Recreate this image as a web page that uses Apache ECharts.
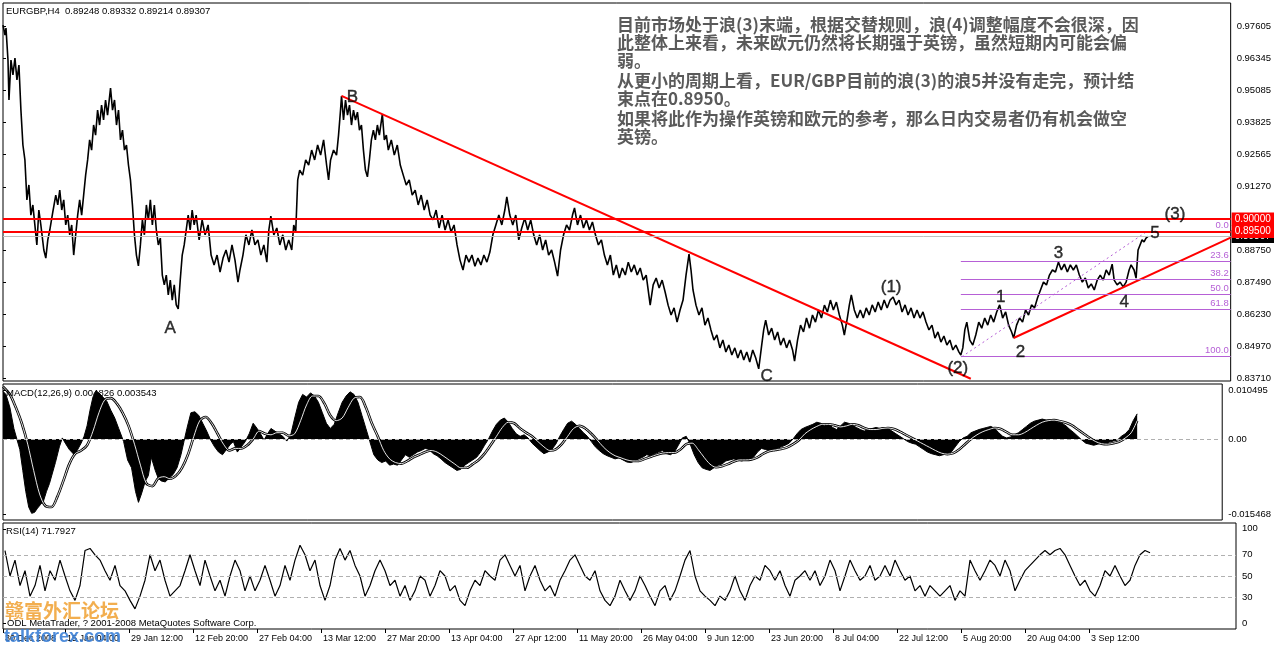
<!DOCTYPE html>
<html><head><meta charset="utf-8">
<script src="https://cdn.jsdelivr.net/npm/echarts@6/dist/echarts.min.js"></script>
<style>html,body{margin:0;padding:0;background:#fff}#c{width:1274px;height:647px}</style>
</head><body><div id="c"></div><script>
// ---------- DATA ----------
const symbolTitle = 'EURGBP,H4  0.89248 0.89332 0.89214 0.89307';
const macdTitle = 'MACD(12,26,9) 0.004826 0.003543';
const rsiTitle = 'RSI(14) 71.7927';

const timeTickBars = [0,62,126,190,254,318,382,446,510,574,638,702,766,830,894,958,1022,1086];
const timeLabels = ['30 Dec 2008','15 Jan 04:00','29 Jan 12:00','12 Feb 20:00','27 Feb 04:00','13 Mar 12:00','27 Mar 20:00','13 Apr 04:00','27 Apr 12:00','11 May 20:00','26 May 04:00','9 Jun 12:00','23 Jun 20:00','8 Jul 04:00','22 Jul 12:00','5 Aug 20:00','20 Aug 04:00','3 Sep 12:00'];

const priceTicks = [0.97605,0.96345,0.95085,0.93825,0.92565,0.91270,0.88750,0.87490,0.86230,0.84970,0.83710];

// [bar, price]
const pricePoints = [[0,0.9766],[2,0.9727],[3,0.9754],[5,0.9628],[6,0.9470],[8,0.9628],[10,0.9569],[12,0.9636],[14,0.9549],[16,0.9608],[18,0.9430],[20,0.9292],[22,0.9233],[24,0.9075],[26,0.9134],[28,0.9015],[30,0.9055],[32,0.8976],[34,0.8897],[36,0.9035],[38,0.8976],[41,0.8877],[43,0.8845],[45,0.8917],[47,0.8956],[50,0.9027],[53,0.9094],[55,0.9055],[57,0.9114],[59,0.9035],[61,0.9075],[63,0.8976],[65,0.9015],[67,0.8937],[69,0.8976],[71,0.8857],[73,0.8937],[75,0.9015],[77,0.9075],[79,0.9015],[81,0.9094],[83,0.9173],[85,0.9233],[87,0.9312],[89,0.9272],[91,0.9371],[93,0.9331],[95,0.9430],[97,0.9371],[99,0.9450],[101,0.9391],[103,0.9470],[105,0.9410],[108,0.9517],[110,0.9430],[112,0.9470],[114,0.9371],[116,0.9430],[118,0.9312],[120,0.9351],[122,0.9272],[124,0.9292],[126,0.9213],[128,0.9154],[130,0.9055],[132,0.8937],[134,0.8857],[136,0.8814],[138,0.8897],[140,0.8996],[142,0.8937],[144,0.9055],[146,0.8996],[148,0.9075],[150,0.8976],[152,0.9055],[154,0.8956],[156,0.8897],[158,0.8924],[160,0.8778],[162,0.8739],[164,0.8778],[166,0.8699],[168,0.8758],[170,0.8679],[172,0.8739],[174,0.8660],[176,0.8644],[178,0.8758],[180,0.8857],[182,0.8897],[184,0.8956],[186,0.9015],[188,0.8956],[190,0.9035],[192,0.8976],[194,0.9015],[197,0.8917],[200,0.8996],[203,0.8937],[206,0.8976],[209,0.8857],[212,0.8818],[215,0.8857],[218,0.8790],[221,0.8845],[224,0.8877],[227,0.8829],[230,0.8897],[233,0.8837],[236,0.8750],[238,0.8798],[241,0.8857],[244,0.8937],[247,0.8897],[250,0.8956],[253,0.8897],[256,0.8917],[259,0.8857],[262,0.8897],[265,0.8829],[267,0.8956],[269,0.9011],[272,0.8937],[275,0.8964],[278,0.8897],[281,0.8937],[284,0.8877],[287,0.8917],[290,0.8877],[292,0.8976],[294,0.8948],[296,0.9154],[298,0.9193],[301,0.9173],[304,0.9233],[307,0.9213],[310,0.9272],[313,0.9233],[316,0.9292],[319,0.9252],[322,0.9312],[325,0.9213],[327,0.9154],[329,0.9233],[332,0.9272],[335,0.9252],[337,0.9331],[339,0.9430],[340,0.9486],[342,0.9391],[344,0.9470],[346,0.9410],[348,0.9450],[350,0.9371],[352,0.9430],[354,0.9391],[356,0.9422],[358,0.9351],[360,0.9371],[362,0.9272],[364,0.9193],[366,0.9166],[368,0.9233],[370,0.9312],[372,0.9351],[374,0.9312],[376,0.9371],[378,0.9331],[381,0.9414],[383,0.9312],[385,0.9331],[387,0.9272],[390,0.9312],[393,0.9252],[396,0.9292],[399,0.9213],[402,0.9173],[405,0.9134],[408,0.9154],[411,0.9094],[414,0.9114],[417,0.9055],[420,0.9094],[423,0.9035],[426,0.9075],[429,0.9015],[432,0.8996],[435,0.9035],[438,0.8964],[441,0.9015],[444,0.8956],[447,0.8996],[450,0.8948],[453,0.8976],[456,0.8897],[459,0.8837],[462,0.8798],[465,0.8857],[468,0.8829],[471,0.8857],[474,0.8813],[477,0.8845],[480,0.8818],[483,0.8857],[486,0.8829],[489,0.8869],[492,0.8937],[495,0.8976],[498,0.9015],[501,0.8976],[504,0.9035],[506,0.9087],[509,0.9015],[512,0.8976],[515,0.9015],[518,0.8917],[521,0.8964],[524,0.9003],[527,0.8956],[530,0.8996],[533,0.8937],[536,0.8897],[539,0.8937],[542,0.8877],[545,0.8917],[548,0.8857],[551,0.8877],[554,0.8829],[557,0.8774],[560,0.8877],[563,0.8937],[566,0.8976],[569,0.8956],[572,0.9015],[574,0.9043],[577,0.8976],[580,0.9015],[583,0.8964],[586,0.8996],[589,0.8956],[592,0.8988],[595,0.8937],[598,0.8897],[601,0.8917],[604,0.8857],[607,0.8818],[610,0.8857],[613,0.8778],[616,0.8818],[619,0.8766],[622,0.8806],[625,0.8778],[628,0.8829],[631,0.8790],[634,0.8818],[637,0.8778],[640,0.8806],[643,0.8758],[646,0.8778],[650,0.8659],[653,0.8739],[656,0.8766],[659,0.8727],[662,0.8758],[665,0.8711],[668,0.8659],[671,0.8620],[674,0.8648],[677,0.8592],[680,0.8640],[683,0.8679],[686,0.8778],[689,0.8861],[691,0.8798],[693,0.8719],[696,0.8659],[699,0.8620],[702,0.8648],[705,0.8580],[708,0.8608],[711,0.8561],[714,0.8521],[717,0.8541],[720,0.8490],[723,0.8521],[726,0.8474],[729,0.8501],[732,0.8462],[735,0.8490],[738,0.8450],[741,0.8482],[744,0.8442],[747,0.8474],[750,0.8434],[753,0.8482],[756,0.8450],[759,0.8407],[762,0.8501],[764,0.8561],[766,0.8600],[769,0.8541],[772,0.8568],[775,0.8521],[778,0.8553],[781,0.8501],[784,0.8529],[787,0.8490],[790,0.8521],[793,0.8482],[795,0.8438],[798,0.8521],[801,0.8580],[804,0.8553],[807,0.8608],[810,0.8568],[813,0.8620],[816,0.8592],[819,0.8640],[822,0.8608],[825,0.8659],[828,0.8632],[831,0.8679],[834,0.8640],[837,0.8671],[840,0.8620],[843,0.8580],[845,0.8541],[848,0.8608],[850,0.8659],[852,0.8699],[855,0.8640],[858,0.8608],[861,0.8640],[864,0.8608],[867,0.8648],[870,0.8620],[873,0.8660],[876,0.8632],[879,0.8671],[882,0.8640],[885,0.8679],[888,0.8648],[891,0.8679],[894,0.8691],[897,0.8660],[900,0.8679],[903,0.8632],[906,0.8660],[909,0.8620],[912,0.8648],[915,0.8608],[918,0.8640],[921,0.8608],[924,0.8632],[927,0.8592],[930,0.8561],[933,0.8580],[936,0.8529],[939,0.8553],[942,0.8513],[945,0.8537],[948,0.8501],[951,0.8521],[954,0.8482],[957,0.8501],[960,0.8474],[962,0.8462],[964,0.8490],[966,0.8561],[968,0.8592],[971,0.8521],[974,0.8501],[977,0.8541],[980,0.8592],[983,0.8568],[986,0.8608],[989,0.8580],[992,0.8620],[995,0.8592],[998,0.8632],[1001,0.8660],[1004,0.8608],[1007,0.8632],[1010,0.8580],[1013,0.8553],[1015,0.8529],[1018,0.8580],[1021,0.8608],[1024,0.8592],[1027,0.8640],[1030,0.8620],[1033,0.8660],[1036,0.8648],[1039,0.8687],[1042,0.8719],[1045,0.8750],[1048,0.8739],[1051,0.8778],[1054,0.8798],[1057,0.8790],[1060,0.8829],[1063,0.8798],[1066,0.8821],[1069,0.8790],[1072,0.8818],[1075,0.8798],[1078,0.8818],[1081,0.8778],[1084,0.8750],[1087,0.8766],[1090,0.8727],[1093,0.8743],[1096,0.8719],[1099,0.8758],[1102,0.8778],[1105,0.8758],[1108,0.8798],[1111,0.8778],[1114,0.8821],[1116,0.8758],[1119,0.8739],[1122,0.8750],[1125,0.8731],[1128,0.8750],[1131,0.8798],[1133,0.8818],[1136,0.8798],[1138,0.8766],[1140,0.8877],[1142,0.8897],[1144,0.8917],[1146,0.8909],[1148,0.8924],[1150,0.8931]];

const resistanceLevels = [0.90000, 0.89500];
const lastPrice = 0.89307;
const trendDown = [[340,0.9486],[972,0.8368]];
const trendUp = [[1015,0.8529],[1233,0.8926]];
const fibNames = ['0.0','23.6','38.2','50.0','61.8','100.0'];
const fibLevels = [0.8950,0.8833,0.8761,0.8703,0.8644,0.8455];
const fibStartBar = 962;
const fibBase = [[963,0.8455],[1147,0.8945]];

const waveNames = ['A','B','C','(1)','(2)','1','2','3','4','5','(3)'];
const waveBars = [168,351,767,892,959,1002,1022,1060,1126,1157,1177];
const wavePrices = [0.8569,0.9482,0.8379,0.8731,0.8411,0.8691,0.8474,0.8865,0.8671,0.8944,0.9019];

const macdHist = [[0,0.0091],[3,0.0085],[7,0.006],[11,0.002],[14,0],[17,-0.002],[20,-0.006],[23,-0.010],[26,-0.013],[29,-0.0142],[32,-0.0140],[35,-0.0132],[38,-0.0125],[41,-0.0118],[44,-0.0100],[47,-0.0085],[50,-0.0065],[53,-0.0045],[57,-0.0015],[60,0.0002],[63,-0.0008],[67,-0.0020],[72,-0.0030],[75,-0.0022],[79,-0.0008],[82,0.0005],[85,0.0025],[88,0.0055],[91,0.0080],[94,0.0092],[97,0.0088],[101,0.0080],[105,0.0072],[109,0.0055],[113,0.0040],[117,0.0020],[122,-0.0005],[126,-0.0040],[130,-0.0055],[134,-0.0100],[137,-0.0121],[140,-0.0105],[144,-0.0080],[147,-0.0070],[150,-0.0035],[154,-0.0060],[157,-0.0075],[160,-0.0080],[164,-0.0082],[168,-0.0075],[172,-0.0068],[176,-0.0055],[180,-0.0030],[183,-0.0005],[186,0.0020],[190,0.0050],[194,0.0052],[198,0.0045],[202,0.0030],[206,0.0015],[210,-0.0002],[214,-0.0015],[218,-0.0025],[222,-0.0030],[226,-0.0020],[230,-0.0010],[233,-0.0005],[237,-0.0025],[241,-0.0015],[245,-0.0005],[249,0.0010],[253,0.0030],[257,0.0020],[261,0.0008],[264,-0.0002],[267,0.0008],[271,0.0020],[275,0.0015],[279,0.0010],[283,0.0005],[287,-0.0004],[291,0.0008],[295,0.0040],[299,0.0070],[303,0.0085],[307,0.0080],[311,0.0088],[315,0.0082],[319,0.0070],[323,0.0050],[327,0.0030],[331,0.0020],[335,0.0028],[339,0.0050],[343,0.0070],[347,0.0082],[351,0.0090],[355,0.0085],[359,0.0070],[363,0.0045],[367,0.0020],[371,-0.0005],[375,-0.0030],[379,-0.0040],[383,-0.0045],[387,-0.0042],[391,-0.0050],[395,-0.0048],[399,-0.0050],[403,-0.0040],[407,-0.0030],[411,-0.0035],[415,-0.0030],[419,-0.0025],[423,-0.0022],[427,-0.0018],[431,-0.0020],[435,-0.0028],[439,-0.0032],[443,-0.0038],[447,-0.0045],[451,-0.0050],[455,-0.0055],[459,-0.0060],[463,-0.0058],[467,-0.0050],[471,-0.0045],[475,-0.0040],[479,-0.0035],[483,-0.0025],[487,-0.0012],[491,0],[495,0.0015],[499,0.0028],[503,0.0036],[507,0.0040],[511,0.0032],[515,0.0020],[519,0.0010],[523,0.0005],[527,0.0008],[531,0.0002],[535,-0.0008],[539,-0.0015],[543,-0.0022],[547,-0.0028],[551,-0.0025],[555,-0.0020],[559,-0.0010],[563,0.0005],[567,0.0018],[571,0.0030],[575,0.0034],[579,0.0028],[583,0.0020],[587,0.0012],[591,0.0005],[595,-0.0005],[599,-0.0015],[603,-0.0022],[607,-0.0028],[611,-0.0032],[615,-0.0035],[619,-0.0038],[623,-0.0036],[627,-0.0040],[631,-0.0044],[635,-0.0045],[639,-0.0042],[643,-0.0038],[647,-0.0035],[651,-0.0030],[655,-0.0032],[659,-0.0028],[663,-0.0025],[667,-0.0022],[671,-0.0028],[675,-0.0030],[679,-0.0025],[683,-0.0012],[687,0.0002],[691,0.0005],[695,-0.0010],[699,-0.0030],[703,-0.0045],[707,-0.0055],[711,-0.0058],[715,-0.0060],[719,-0.0055],[723,-0.0050],[727,-0.0048],[731,-0.0042],[735,-0.0040],[739,-0.0038],[743,-0.0040],[747,-0.0042],[751,-0.0040],[755,-0.0038],[759,-0.0035],[763,-0.0025],[767,-0.0018],[771,-0.0020],[775,-0.0022],[779,-0.0020],[783,-0.0018],[787,-0.0015],[791,-0.0012],[795,-0.0008],[799,0],[803,0.0010],[807,0.0018],[811,0.0022],[815,0.0025],[819,0.0028],[823,0.0032],[827,0.0030],[831,0.0025],[835,0.0028],[839,0.0022],[843,0.0018],[847,0.0025],[851,0.0032],[855,0.0030],[859,0.0026],[863,0.0022],[867,0.0018],[871,0.0015],[875,0.0018],[879,0.0020],[883,0.0022],[887,0.0020],[891,0.0022],[895,0.0020],[899,0.0015],[903,0.0010],[907,0.0005],[911,0],[915,-0.0005],[919,-0.0008],[923,-0.0010],[927,-0.0015],[931,-0.0020],[935,-0.0025],[939,-0.0028],[943,-0.0030],[947,-0.0032],[951,-0.0030],[955,-0.0028],[959,-0.0025],[963,-0.0015],[967,-0.0005],[971,0.0002],[975,0.0005],[979,0.0012],[983,0.0015],[987,0.0018],[991,0.0020],[995,0.0022],[999,0.0024],[1003,0.0020],[1007,0.0012],[1011,0.0005],[1015,0.0002],[1019,0.0004],[1023,0.0008],[1027,0.0012],[1031,0.0018],[1035,0.0024],[1039,0.0030],[1043,0.0034],[1047,0.0036],[1051,0.0038],[1055,0.0036],[1059,0.0035],[1063,0.0034],[1067,0.0032],[1071,0.0030],[1075,0.0025],[1079,0.0018],[1083,0.0012],[1087,0.0005],[1091,-0.0002],[1095,-0.0008],[1099,-0.0010],[1103,-0.0012],[1107,-0.0010],[1111,-0.0008],[1115,-0.0010],[1119,-0.0006],[1123,-0.0004],[1127,-0.0002],[1131,0.0005],[1135,0.0010],[1139,0.0018],[1143,0.0035],[1147,0.0048]];

const macdSignal = [[0,0.0100],[7,0.0085],[13,0.0060],[19,0.0030],[25,-0.0010],[31,-0.0060],[37,-0.0105],[43,-0.0128],[49,-0.0130],[55,-0.0110],[61,-0.0080],[67,-0.0048],[73,-0.0028],[79,-0.0022],[85,-0.0012],[91,0.0015],[97,0.0050],[103,0.0075],[109,0.0078],[115,0.0068],[121,0.0050],[127,0.0025],[133,-0.0010],[139,-0.0050],[145,-0.0085],[151,-0.0090],[157,-0.0075],[163,-0.0072],[169,-0.0076],[175,-0.0070],[181,-0.0055],[187,-0.0030],[193,0.0005],[199,0.0035],[205,0.0042],[211,0.0030],[217,0.0010],[223,-0.0010],[229,-0.0022],[235,-0.0018],[241,-0.0018],[247,-0.0012],[253,0],[259,0.0015],[265,0.0010],[271,0.0008],[277,0.0012],[283,0.0012],[289,0.0006],[295,0.0010],[301,0.0035],[307,0.0065],[313,0.0082],[319,0.0082],[325,0.0068],[331,0.0045],[337,0.0035],[343,0.0040],[349,0.0060],[355,0.0078],[361,0.0080],[367,0.0060],[373,0.0030],[379,0.0005],[385,-0.0022],[391,-0.0038],[397,-0.0045],[403,-0.0047],[409,-0.0042],[415,-0.0035],[421,-0.0030],[427,-0.0025],[433,-0.0022],[439,-0.0025],[445,-0.0032],[451,-0.0040],[457,-0.0048],[463,-0.0055],[469,-0.0055],[475,-0.0048],[481,-0.0040],[487,-0.0028],[493,-0.0012],[499,0.0005],[505,0.0022],[511,0.0032],[517,0.0030],[523,0.0020],[529,0.0012],[535,0.0005],[541,-0.0005],[547,-0.0015],[553,-0.0022],[559,-0.0020],[565,-0.0010],[571,0.0005],[577,0.0020],[583,0.0025],[589,0.0020],[595,0.0010],[601,-0.0002],[607,-0.0015],[613,-0.0025],[619,-0.0032],[625,-0.0036],[631,-0.0040],[637,-0.0042],[643,-0.0042],[649,-0.0038],[655,-0.0034],[661,-0.0030],[667,-0.0027],[673,-0.0026],[679,-0.0026],[685,-0.0020],[691,-0.0010],[697,-0.0008],[703,-0.0020],[709,-0.0035],[715,-0.0048],[721,-0.0054],[727,-0.0052],[733,-0.0048],[739,-0.0043],[745,-0.0040],[751,-0.0040],[757,-0.0039],[763,-0.0035],[769,-0.0028],[775,-0.0023],[781,-0.0021],[787,-0.0019],[793,-0.0016],[799,-0.0010],[805,-0.0002],[811,0.0010],[817,0.0018],[823,0.0024],[829,0.0028],[835,0.0028],[841,0.0026],[847,0.0023],[853,0.0025],[859,0.0028],[865,0.0026],[871,0.0021],[877,0.0018],[883,0.0018],[889,0.0020],[895,0.0021],[901,0.0019],[907,0.0014],[913,0.0008],[919,0.0002],[925,-0.0004],[931,-0.0010],[937,-0.0016],[943,-0.0022],[949,-0.0027],[955,-0.0029],[961,-0.0027],[967,-0.0020],[973,-0.0010],[979,0],[985,0.0008],[991,0.0014],[997,0.0018],[1003,0.0021],[1009,0.0019],[1015,0.0013],[1021,0.0008],[1027,0.0008],[1033,0.0012],[1039,0.0019],[1045,0.0026],[1051,0.0032],[1057,0.0035],[1063,0.0036],[1069,0.0034],[1075,0.0031],[1081,0.0026],[1087,0.0018],[1093,0.0010],[1099,0.0002],[1105,-0.0005],[1111,-0.0009],[1117,-0.0010],[1123,-0.0008],[1129,-0.0005],[1135,0.0002],[1141,0.0012],[1147,0.0035]];
const macdMax = 0.010495, macdMin = -0.015468;

const rsiStartBar = 2, rsiStepBars = 5;
const rsiValues = [74,50,65,41,55,31,41,60,36,55,46,65,50,36,27,41,74,76,70,65,55,46,60,41,36,27,19,31,46,70,55,65,46,31,36,41,55,70,55,41,65,50,36,46,31,50,65,55,36,50,36,46,60,46,31,41,60,46,65,79,70,55,65,41,27,41,65,76,65,74,60,50,31,41,55,65,55,41,46,31,41,27,36,50,46,31,41,55,50,36,41,27,22,36,46,41,55,50,46,65,70,60,50,60,36,50,60,46,36,41,31,46,55,65,70,60,50,46,55,36,27,22,31,46,36,27,36,50,41,31,22,36,41,27,36,50,65,74,50,36,31,27,22,31,27,36,50,36,27,41,50,46,60,55,46,55,41,31,46,50,55,46,55,41,50,65,55,36,50,65,55,46,50,60,46,50,60,50,65,55,46,50,36,41,31,41,36,31,36,41,27,36,31,65,55,46,55,65,60,50,65,55,36,46,55,60,65,70,74,70,74,76,70,60,50,41,46,36,31,41,55,50,60,50,41,46,60,70,74,72];
const rsiLevels = [30,50,70];

const commentLines = [
 '目前市场处于浪(3)末端，根据交替规则，浪(4)调整幅度不会很深，因',
 '此整体上来看，未来欧元仍然将长期强于英镑，虽然短期内可能会偏',
 '弱。',
 '从更小的周期上看，EUR/GBP目前的浪(3)的浪5并没有走完，预计结',
 '束点在0.8950。',
 '如果将此作为操作英镑和欧元的参考，那么日内交易者仍有机会做空',
 '英镑。'
];
const commentTops = [16,34,52,72,90,110,128];

// ---------- CHART ----------
const F = '"Liberation Sans Narrow","Liberation Sans",Arial,sans-serif';
const FIB = '#b660d6';
const XMAX = 1233;
const chart = echarts.init(document.getElementById('c'), null, {renderer:'canvas'});

const rsiData = rsiValues.map((v,i)=>[rsiStartBar + i*rsiStepBars, v]);
const macdLabelPos = [macdMax*0.88, 0, macdMin*0.93];
const macdLabelTxt = ['0.010495','0.00','-0.015468'];
const rsiLabelPos = [5.5,30,50,70,94.5];
const rsiLabelTxt = ['0','30','50','70','100'];

function xAx(i, show){
  return {type:'value', gridIndex:i, min:0, max:XMAX, show:true,
    axisLine:{show:false}, splitLine:{show:false},
    axisTick: show ? {show:true, customValues:timeTickBars, length:4, lineStyle:{color:'#000'}} : {show:false},
    axisLabel: show ? {show:true, customValues:timeTickBars, align:'left', padding:[0,0,0,2], margin:5,
      fontFamily:F, fontSize:9, color:'#000',
      formatter:v=>timeLabels[timeTickBars.indexOf(v)]} : {show:false}};
}
function yAx(i, min, max, pos, fmt){
  return {type:'value', gridIndex:i, min:min, max:max, position:'right',
    axisLine:{show:false}, splitLine:{show:false},
    axisTick:{show:true, customValues:pos, length:3, lineStyle:{color:'#000'}},
    axisLabel:{show:true, customValues:pos, margin:6, align:'left', fontFamily:F, fontSize:9.5, color:'#000', formatter:fmt}};
}
function hLine(level, color, bg, z, width){
  return {type:'line', xAxisIndex:0, yAxisIndex:0, data:[], z:z,
    markLine:{silent:true, symbol:'none', animation:false, precision:6,
      lineStyle:{color:color, width:width, type:'solid'},
      label:{position:'end', distance:1, formatter:level.toFixed(5), backgroundColor:bg, color:'#fff',
        fontFamily:F, fontSize:10, padding:[2,4,1,3]},
      data:[{yAxis:level}]}};
}

const series = [];
series.push(hLine(lastPrice, '#c0c0c0', '#000', 2, 1));
series.push({type:'line', xAxisIndex:0, yAxisIndex:0, data:pricePoints, symbol:'none', z:3,
  lineStyle:{color:'#000', width:1.6}});
series.push({type:'line', xAxisIndex:0, yAxisIndex:0, data:[], z:3,
  markLine:{silent:true, symbol:'none', animation:false, precision:6,
    lineStyle:{color:FIB, width:1, type:'solid'},
    label:{position:'insideEndTop', distance:[2,1], color:FIB, fontFamily:F, fontSize:9.5},
    data: fibLevels.map((v,i)=>[{coord:[fibStartBar, v], label:{formatter:fibNames[i]}},{coord:[XMAX, v]}])}});
series.push({type:'line', xAxisIndex:0, yAxisIndex:0, data:fibBase, symbol:'none', z:3,
  lineStyle:{color:FIB, width:1, type:[2,3]}});
series.push({type:'line', xAxisIndex:0, yAxisIndex:0, data:trendDown, symbol:'none', z:4,
  lineStyle:{color:'#ff0000', width:2}});
series.push({type:'line', xAxisIndex:0, yAxisIndex:0, data:trendUp, symbol:'none', z:4,
  lineStyle:{color:'#ff0000', width:2}});
resistanceLevels.forEach(v=>series.push(hLine(v, '#ff0000', '#ff0000', 5, 2)));
series.push({type:'scatter', xAxisIndex:0, yAxisIndex:0, symbolSize:0, z:6, silent:true,
  data: waveNames.map((n,i)=>({name:n, value:[waveBars[i], wavePrices[i]]})),
  label:{show:true, position:'inside', formatter:'{b}', color:'#000', fontFamily:'"Liberation Sans",Arial,sans-serif', fontSize:17,
    textBorderColor:'#000', textBorderWidth:0.4}});
// MACD
series.push({type:'line', xAxisIndex:1, yAxisIndex:1, data:macdHist, symbol:'none', z:3,
  lineStyle:{color:'#000', width:1}, areaStyle:{color:'#000', opacity:1},
  markLine:{silent:true, symbol:'none', animation:false, precision:6, label:{show:false},
    lineStyle:{color:'#b0b0b0', width:1, type:[4,3]}, data:[{yAxis:0}]}});
series.push({type:'line', xAxisIndex:1, yAxisIndex:1, data:macdSignal, symbol:'none', z:4, smooth:0.3,
  lineStyle:{color:'#000', width:2.6}});
series.push({type:'line', xAxisIndex:1, yAxisIndex:1, data:macdSignal, symbol:'none', z:5, smooth:0.3,
  lineStyle:{color:'#fff', width:0.9}});
// RSI
series.push({type:'line', xAxisIndex:2, yAxisIndex:2, data:rsiData, symbol:'none', z:4,
  lineStyle:{color:'#000', width:1.2},
  markLine:{silent:true, symbol:'none', animation:false, label:{show:false},
    lineStyle:{color:'#b0b0b0', width:1, type:[4,3]}, data:rsiLevels.map(v=>({yAxis:v}))}});

const graphic = [
  {type:'text', left:6, top:6, style:{text:symbolTitle, font:'9.5px '+F, fill:'#000'}, z:100},
  {type:'text', left:6, top:388, style:{text:macdTitle, font:'9.5px '+F, fill:'#000'}, z:100},
  {type:'text', left:6, top:526, style:{text:rsiTitle, font:'9.5px '+F, fill:'#000'}, z:100},
  {type:'text', left:5, top:601, style:{text:'赣富外汇论坛', font:'bold 19px "Noto Sans CJK SC"', fill:'#f0a030', opacity:0.85}, z:100},
  {type:'text', left:7, top:618, style:{text:'ODL MetaTrader, ? 2001-2008 MetaQuotes Software Corp.', font:'9.5px '+F, fill:'#000'}, z:101},
  {type:'text', left:4, top:628, style:{text:'talkforex.com', font:'bold 18px "Liberation Sans",Arial,sans-serif', fill:'#3b7fd6', opacity:0.9}, z:102}
];
commentLines.forEach((t,i)=>graphic.push({type:'text', left:617, top:commentTops[i],
  style:{text:t, font:'bold 17px "Noto Sans CJK SC"', fill:'#5a5a5a'}, z:100}));

chart.setOption({
  animation:false,
  backgroundColor:'#ffffff',
  grid:[
    {left:3, width:1233, top:3, height:378, show:true, borderColor:'#000', borderWidth:1, backgroundColor:'transparent'},
    {left:3, width:1233, top:384, height:136, show:true, borderColor:'#000', borderWidth:1, backgroundColor:'transparent'},
    {left:3, width:1233, top:523, height:106, show:true, borderColor:'#000', borderWidth:1, backgroundColor:'transparent'}
  ],
  xAxis:[xAx(0,false), xAx(1,false), xAx(2,true)],
  yAxis:[
    yAx(0, 0.83591, 0.98534, priceTicks, v=>v.toFixed(5)),
    yAx(1, macdMin, macdMax, macdLabelPos, v=>macdLabelTxt[macdLabelPos.indexOf(v)] || ''),
    yAx(2, 0, 100, rsiLabelPos, v=>rsiLabelTxt[rsiLabelPos.indexOf(v)] || '')
  ],
  series:series,
  graphic:graphic
});
</script></body></html>
